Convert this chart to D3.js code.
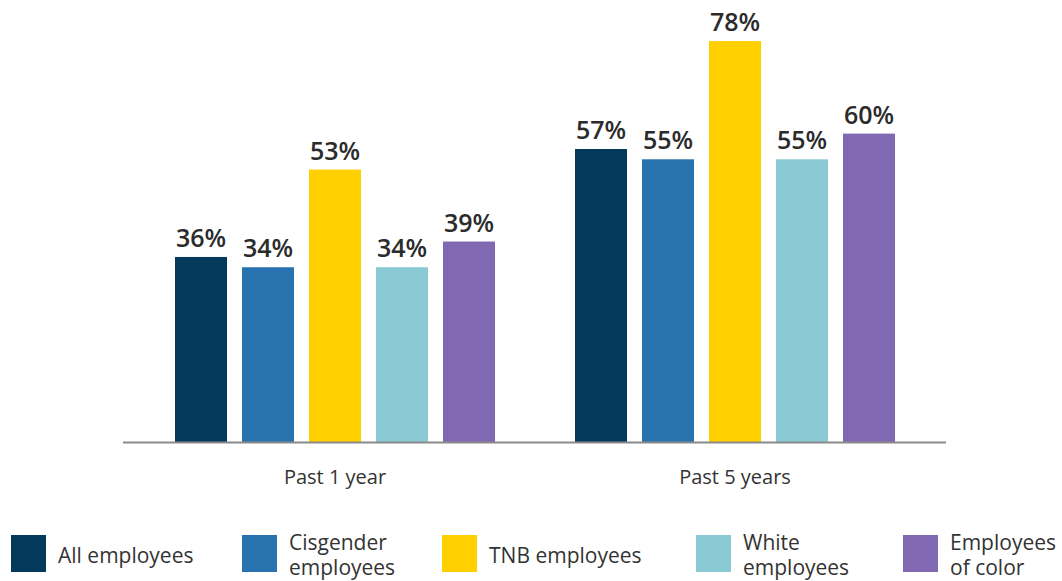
<!DOCTYPE html>
<html>
<head>
<meta charset="utf-8">
<script src="https://cdn.jsdelivr.net/npm/d3@7"></script>
<style>
  html, body { margin: 0; padding: 0; background: #fff; }
  svg { display: block; font-family: "Open Sans", sans-serif; }
</style>
</head>
<body>
<svg id="chart" width="1062" height="581"></svg>
<script>
const categories = ["Past 1 year", "Past 5 years"];
const seriesNames = ["All employees", "Cisgender employees", "TNB employees", "White employees", "Employees of color"];
const legendLines = [["All employees"], ["Cisgender", "employees"], ["TNB employees"], ["White", "employees"], ["Employees", "of color"]];
const seriesColors = ["#033a5b", "#2873af", "#ffcf00", "#8acad4", "#8068b2"];
const allEmployees = [36, 57];
const cisgenderEmployees = [34, 55];
const tnbEmployees = [53, 78];
const whiteEmployees = [34, 55];
const employeesOfColor = [39, 60];
const seriesValues = [allEmployees, cisgenderEmployees, tnbEmployees, whiteEmployees, employeesOfColor];

const svg = d3.select("#chart");
const baseY = 442;

const x0 = d3.scaleBand().domain(categories).range([135, 935]).padding(0);
const x1 = d3.scaleBand().domain(seriesNames).range([0, 320]).paddingInner(15 / 67).paddingOuter(0);
const y = d3.scaleLinear().domain([0, 100]).range([baseY, baseY - 514]);

const groups = svg.selectAll("g.group")
  .data(categories)
  .enter().append("g")
  .attr("class", "group")
  .attr("transform", d => `translate(${x0(d) + x0.bandwidth() / 2 - 160},0)`);

groups.each(function(cat, ci) {
  const g = d3.select(this);
  seriesNames.forEach((s, si) => {
    const v = seriesValues[si][ci];
    g.append("rect")
      .attr("x", x1(s))
      .attr("y", y(v))
      .attr("width", x1.bandwidth())
      .attr("height", baseY - y(v))
      .attr("fill", seriesColors[si]);
    g.append("text")
      .attr("x", x1(s) + x1.bandwidth() / 2)
      .attr("y", y(v) - 10)
      .attr("text-anchor", "middle")
      .attr("font-size", 25)
      .attr("font-weight", 600)
      .attr("fill", "#2b2b2b")
      .text(v + "%");
  });
});

// axis baseline
const xAxis = d3.axisBottom(x0).tickSize(0).tickPadding(28);
const axisG = svg.append("g").attr("transform", `translate(0,${baseY})`).call(xAxis);
axisG.select(".domain").remove();
axisG.append("line").attr("x1", 123).attr("x2", 946).attr("y1", 0.5).attr("y2", 0.5)
  .attr("stroke", "#8a8a8a").attr("stroke-width", 2);
axisG.selectAll(".tick text")
  .attr("font-family", "'Open Sans', sans-serif")
  .attr("font-size", 20)
  .attr("fill", "#333");

// legend
const legendX = [11, 242, 442, 696, 903];
const legend = svg.append("g");
seriesNames.forEach((s, i) => {
  const lg = legend.append("g").attr("transform", `translate(${legendX[i]},0)`);
  lg.append("rect").attr("x", 0).attr("y", 535).attr("width", 35).attr("height", 37).attr("fill", seriesColors[i]);
  const lines = legendLines[i];
  const t = lg.append("text").attr("x", 47).attr("font-size", 21).attr("fill", "#333");
  if (lines.length === 1) {
    t.append("tspan").attr("x", 47).attr("y", 563).text(lines[0]);
  } else {
    t.append("tspan").attr("x", 47).attr("y", 550).text(lines[0]);
    t.append("tspan").attr("x", 47).attr("y", 575).text(lines[1]);
  }
});
</script>
</body>
</html>
